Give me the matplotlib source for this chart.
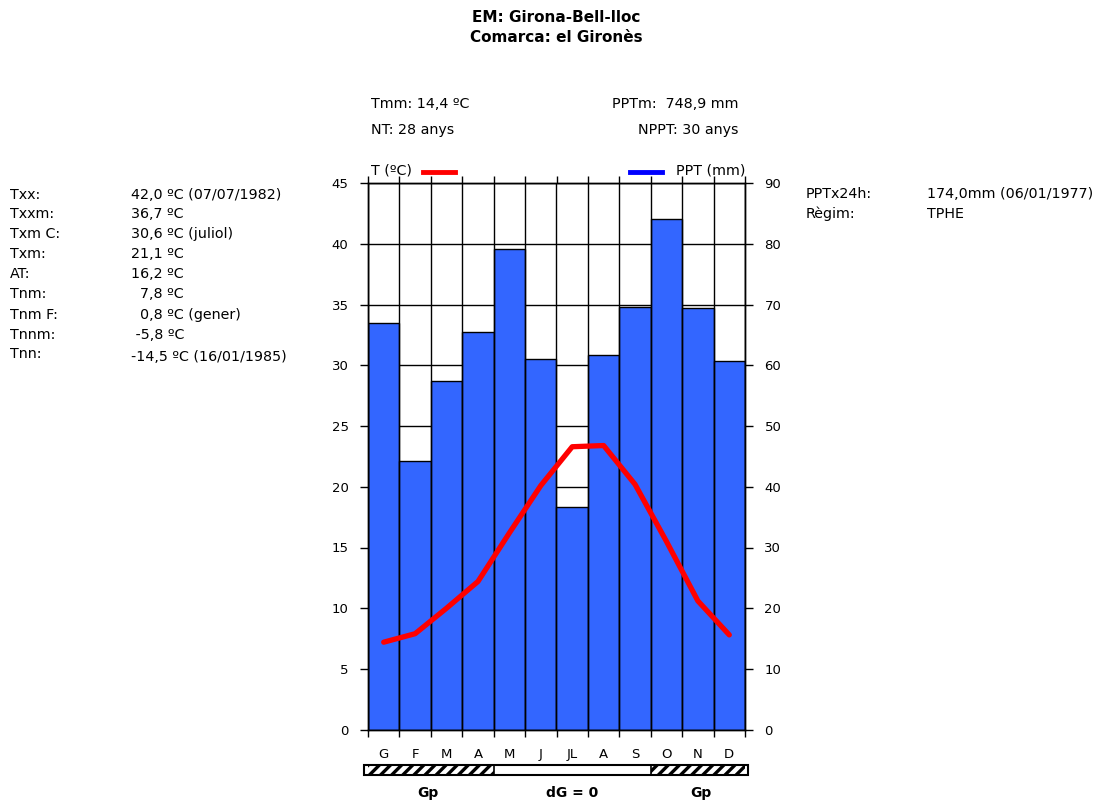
import matplotlib
matplotlib.use("Agg")
import matplotlib.pyplot as plt
from matplotlib.patches import Rectangle

# Monthly climatology, Girona-Bell-lloc
months = ["G", "F", "M", "A", "M", "J", "JL", "A", "S", "O", "N", "D"]
ppt_mm = [67.0, 44.3, 57.4, 65.5, 79.2, 61.1, 36.6, 61.7, 69.6, 84.1, 69.4, 60.8]
temp_c = [7.2, 7.9, 10.0, 12.2, 16.2, 20.1, 23.3, 23.4, 20.2, 15.5, 10.6, 7.8]

# Gaussen dry-period strip: hatched months (Gp) vs. months with dG = 0
hatched = [True, True, True, True, False, False, False, False, False, True, True, True]

left_labels = ["Txx:", "Txxm:", "Txm C:", "Txm:", "AT:", "Tnm:", "Tnm F:", "Tnnm:", "Tnn:"]
left_values = ["42,0 ºC (07/07/1982)", "36,7 ºC", "30,6 ºC (juliol)", "21,1 ºC",
               "16,2 ºC", "  7,8 ºC", "  0,8 ºC (gener)", " -5,8 ºC", "-14,5 ºC (16/01/1985)"]
right_labels = ["PPTx24h:", "Règim:"]
right_values = ["174,0mm (06/01/1977)", "TPHE"]

W, H = 1102, 801
fig = plt.figure(figsize=(W / 100, H / 100), dpi=100)
plt.rcParams["font.family"] = ["DejaVu Sans"]
FS = 10.3
TFS = 9.5


def fx(px):
    return px / W


def fy(py):
    return 1 - py / H


ax_l, ax_r, ax_t, ax_b = 368, 745, 183.3, 729.6
ax = fig.add_axes([fx(ax_l), fy(ax_b), fx(ax_r - ax_l), (ax_b - ax_t) / H])
ax2 = ax.twinx()

x = list(range(len(months)))
blue = "#3366FF"

# precipitation bars on the right-hand axis
ax2.bar(x, ppt_mm, width=1.0, color=blue, edgecolor="black", linewidth=1.0, zorder=2)
ax2.set_ylim(0, 90)
ax2.set_yticks(range(0, 91, 10))
ax2.yaxis.grid(True, color="black", linewidth=1.0)
ax2.set_axisbelow(True)
for b in range(len(months) + 1):
    ax2.axvline(b - 0.5, color="black", linewidth=1.0, zorder=3)

# temperature line on the left-hand axis, drawn above the bars
ax.set_zorder(ax2.get_zorder() + 1)
ax.patch.set_visible(False)
ax.plot(x, temp_c, color="#FF0000", linewidth=3.8, solid_capstyle="round",
        solid_joinstyle="round", zorder=5)
ax.set_ylim(0, 45)
ax.set_yticks(range(0, 46, 5))
ax.set_xlim(-0.5, 11.5)

ax.set_xticks([b - 0.5 for b in range(len(months) + 1)])
ax.set_xticklabels([])
ax.set_xticks(x, minor=True)
ax.set_xticklabels(months, minor=True, fontsize=TFS)
ax.tick_params(axis="x", which="major", direction="out", length=5, width=1,
               top=True, bottom=True)
ax.tick_params(axis="x", which="minor", length=0, pad=13)
ax.tick_params(axis="y", direction="out", length=6, width=1, labelsize=TFS, pad=8)
ax2.tick_params(axis="y", direction="out", length=6, width=1, labelsize=TFS, pad=8)
for a in (ax, ax2):
    for s in a.spines.values():
        s.set_linewidth(1.0)

# titles
fig.text(fx(556), fy(18), "EM: Girona-Bell-lloc", ha="center", va="center",
         fontsize=11, fontweight="bold")
fig.text(fx(556), fy(38), "Comarca: el Gironès", ha="center", va="center",
         fontsize=11, fontweight="bold")

# summary above the chart
fig.text(fx(371), fy(104), "Tmm: 14,4 ºC", ha="left", va="center", fontsize=FS)
fig.text(fx(371), fy(130), "NT: 28 anys", ha="left", va="center", fontsize=FS)
fig.text(fx(739), fy(104), "PPTm:  748,9 mm", ha="right", va="center", fontsize=FS)
fig.text(fx(739), fy(130), "NPPT: 30 anys", ha="right", va="center", fontsize=FS)

# legend keys
fig.text(fx(371), fy(171), "T (ºC)", ha="left", va="center", fontsize=FS)
fig.add_artist(plt.Line2D([fx(423), fx(455)], [fy(172), fy(172)], color="#FF0000",
                          linewidth=3.5))
fig.add_artist(plt.Line2D([fx(630), fx(662)], [fy(172), fy(172)], color="#0000FF",
                          linewidth=3.5))
fig.text(fx(745), fy(171), "PPT (mm)", ha="right", va="center", fontsize=FS)

# left statistics block
rows_y = [195, 214, 234, 254, 274, 294, 315, 335, 354]
for lab, val, yy in zip(left_labels, left_values, rows_y):
    vy = yy + 3 if lab == "Tnn:" else yy
    fig.text(fx(10), fy(yy), lab, ha="left", va="center", fontsize=FS)
    fig.text(fx(131), fy(vy), val, ha="left", va="center", fontsize=FS)

# right statistics block
for lab, val, yy in zip(right_labels, right_values, [194, 214]):
    fig.text(fx(806), fy(yy), lab, ha="left", va="center", fontsize=FS)
    fig.text(fx(927), fy(yy), val, ha="left", va="center", fontsize=FS)

# Gaussen strip below the months
s_l, s_r, s_t, s_b = 364, 748, 764.5, 774.5
sx = fig.add_axes([fx(s_l), fy(s_b), fx(s_r - s_l), (s_b - s_t) / H])
unit = (ax_r - ax_l) / 12.0
sx.set_xlim(-0.5 - (ax_l - s_l) / unit, 11.5 + (s_r - ax_r) / unit)
sx.set_ylim(0, 1)
sx.axis("off")
plt.rcParams["hatch.linewidth"] = 2.4
for i, h in enumerate(hatched):
    if h:
        sx.add_patch(Rectangle((i - 0.5, 0), 1, 1, facecolor="white",
                               edgecolor="black", hatch="///", linewidth=0))
sx.add_patch(Rectangle((sx.get_xlim()[0], 0), sx.get_xlim()[1] - sx.get_xlim()[0], 1,
                       fill=False, edgecolor="black", linewidth=1.5,
                       transform=sx.transData, clip_on=False))
sx.axvline(3.5, color="black", linewidth=1.2)
sx.axvline(8.5, color="black", linewidth=1.2)

fig.text(fx(428), fy(793), "Gp", ha="center", va="center", fontsize=10, fontweight="bold")
fig.text(fx(572), fy(793), "dG = 0", ha="center", va="center", fontsize=10,
         fontweight="bold")
fig.text(fx(701), fy(793), "Gp", ha="center", va="center", fontsize=10, fontweight="bold")

fig.savefig("out.png", dpi=100)
